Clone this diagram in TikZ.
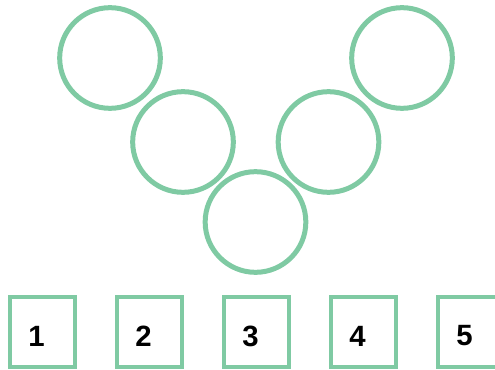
\documentclass[tikz,border=0pt]{standalone}
\usepackage{fontspec}
\setmainfont{Liberation Sans}
\definecolor{vert}{RGB}{127,202,163}
\begin{document}
\begin{tikzpicture}[x=0.75pt,y=-0.75pt]
			% Styles
			\tikzstyle{cercle}=[draw=vert,line width=3.75pt,circle,minimum size=75.5pt,inner sep=0pt]
			\tikzstyle{case}=[draw=vert,line width=3pt,rectangle,minimum width=49pt,minimum height=52.5pt,inner sep=0pt]
			\tikzstyle{chiffre}=[font=\fontsize{22}{26}\selectfont\bfseries,inner sep=0pt]
			% Dimensions
			\def\PasCases{107}
			\def\NiveauCases{332}
			% Cadre
			\useasboundingbox (0,0) rectangle (495,370);
			% Cercles
			\node[cercle] (C1) at (110,58) {};
			\node[cercle] (C2) at (183,142) {};
			\node[cercle] (C3) at (255.5,222) {};
			\node[cercle] (C4) at (328.5,142) {};
			\node[cercle] (C5) at (402,58) {};
			% Cases numerotees
			\foreach \i in {1,...,5}{
				\node[case] (K\i) at ({42.5+(\i-1)*\PasCases},\NiveauCases) {};
				\node[chiffre] (N\i) at ([xshift=-4.5pt,yshift=-3pt]K\i.center) {\i};
			}
		\end{tikzpicture}
\end{document}
